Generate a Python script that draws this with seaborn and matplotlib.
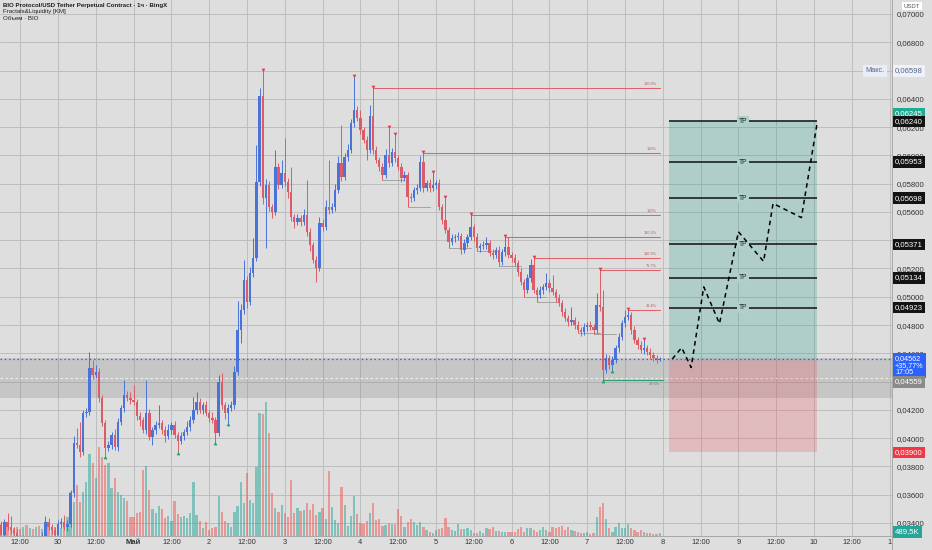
import matplotlib
matplotlib.use("Agg")

import numpy as np
import pandas as pd
import matplotlib.pyplot as plt
import seaborn as sns
from matplotlib.transforms import blended_transform_factory
from matplotlib.ticker import FuncFormatter

sns.set_theme(style="white")
plt.rcParams["font.family"] = ["Liberation Sans", "DejaVu Sans"]

BG = "#dedede"
GRID = "#bdbdbd"
UP = "#4a72d9"
DOWN = "#db5b66"

# hourly candles, prices x1000 (0.04562 -> 45.62), first candle = Apr 29 06:00
first_open = 33.86
close_k = [
    33.15, 34.07, 33.71, 33.50, 33.29, 32.94, 32.80, 32.87, 32.66, 32.80,
    32.73, 32.87, 32.80, 33.08, 34.07, 33.71, 33.50, 33.15, 33.93, 34.07,
    33.71, 33.93, 36.12, 39.66, 39.51, 39.02, 41.78, 41.85, 44.96, 44.47,
    44.68, 42.84, 41.07, 39.30, 39.51, 40.22, 39.37, 41.14, 42.13, 43.05,
    42.84, 42.70, 42.56, 41.57, 41.28, 40.58, 41.78, 40.08, 40.58, 40.93,
    41.07, 40.58, 40.15, 40.58, 40.93, 40.22, 39.80, 40.15, 40.43, 40.79,
    41.28, 41.99, 42.56, 41.99, 42.34, 41.78, 41.43, 41.28, 40.36, 43.97,
    42.34, 41.78, 42.13, 42.34, 44.68, 47.65, 49.06, 51.18, 49.63, 51.68,
    52.74, 58.12, 64.20, 56.99, 57.90, 56.35, 56.00, 59.18, 57.90, 58.75,
    58.12, 57.41, 55.64, 55.29, 55.57, 55.29, 55.78, 54.58, 53.66, 52.60,
    52.03, 55.22, 54.93, 56.35, 56.13, 56.35, 57.55, 59.46, 58.47, 59.89,
    60.38, 62.29, 63.21, 62.64, 61.79, 61.09, 60.38, 62.79, 60.38, 59.67,
    59.18, 58.61, 60.03, 59.46, 60.24, 59.81, 59.18, 58.40, 58.61, 57.06,
    56.99, 57.55, 57.69, 59.53, 57.69, 58.05, 57.69, 57.90, 58.05, 56.35,
    55.43, 54.72, 53.87, 54.16, 54.23, 54.30, 53.31, 53.80, 54.23, 54.93,
    54.23, 53.45, 53.59, 53.66, 53.80, 53.10, 52.95, 53.31, 52.46, 53.17,
    53.52, 52.95, 52.74, 52.39, 51.75, 51.04, 50.48, 51.33, 52.24, 50.48,
    50.12, 50.48, 50.69, 50.97, 50.62, 50.34, 49.91, 49.56, 48.92, 48.50,
    48.21, 48.35, 48.00, 47.65, 47.51, 47.86, 48.00, 47.86, 47.65, 49.42,
    49.28, 44.82, 45.67, 45.17, 45.53, 46.38, 47.15, 48.14, 48.57, 48.71,
    47.65, 46.94, 46.58, 46.23, 46.38, 46.08, 45.87, 45.66, 45.53, 45.62,
]
wick_up_k = [
    0.3, 0.2, 0.64, 0.78, 0.2, 0.3, 0.2, 0.3, 0.2, 0.2,
    0.3, 0.2, 0.2, 0.3, 0.4, 0.28, 0.2, 0.2, 0.3, 0.3,
    0.5, 0.3, 0.2, 0.5, 1.06, 1.63, 0.2, 0.3, 1.13, 0.57,
    0.5, 0.3, 0.2, 0.2, 0.3, 0.2, 0.4, 0.3, 0.2, 1.06,
    0.3, 0.4, 1.06, 0.2, 0.3, 0.2, 2.33, 0.3, 0.2, 0.3,
    1.27, 0.2, 0.3, 0.4, 0.2, 0.3, 0.2, 0.3, 0.2, 0.4,
    0.3, 0.92, 0.71, 0.3, 0.2, 0.3, 0.2, 0.4, 0.2, 0.5,
    0.64, 0.2, 0.3, 0.3, 0.4, 2.05, 0.4, 1.41, 0.3, 0.4,
    1.41, 2.62, 0.6, 1.77, 0.4, 0.3, 0.2, 1.2, 0.3, 0.9,
    2.48, 0.3, 1.77, 0.2, 0.3, 0.2, 0.4, 2.5, 0.3, 0.2,
    0.3, 0.4, 0.3, 0.5, 3.3, 0.3, 0.4, 0.5, 2.7, 0.3,
    0.4, 0.3, 2.33, 0.3, 0.57, 0.2, 0.3, 0.78, 1.98, 0.3,
    0.2, 0.3, 0.4, 1.91, 0.3, 1.2, 0.2, 0.3, 0.3, 0.2,
    0.3, 0.2, 0.3, 0.4, 0.64, 0.2, 0.3, 0.85, 0.2, 0.3,
    0.2, 1.56, 0.2, 0.3, 0.2, 0.3, 0.2, 0.3, 0.2, 0.85,
    0.2, 0.3, 0.2, 0.3, 0.4, 0.2, 0.3, 0.2, 0.3, 0.2,
    0.71, 0.71, 0.2, 0.3, 0.2, 0.3, 0.2, 0.3, 0.4, 0.5,
    0.2, 0.3, 0.2, 0.71, 0.3, 0.92, 0.2, 0.3, 0.2, 0.3,
    0.2, 0.92, 0.2, 0.3, 0.2, 0.3, 0.2, 0.3, 0.2, 0.85,
    2.48, 1.2, 0.3, 0.2, 0.3, 0.2, 0.3, 0.2, 0.5, 0.35,
    0.2, 0.3, 0.2, 0.3, 0.57, 0.2, 0.3, 0.2, 0.2, 0.1,
]
wick_down_k = [
    0.2, 0.3, 0.2, 0.3, 0.2, 0.3, 0.2, 0.2, 0.3, 0.2,
    0.2, 0.3, 0.2, 0.2, 0.3, 0.2, 0.3, 0.2, 0.2, 0.3,
    0.2, 0.3, 0.2, 0.3, 0.2, 0.35, 0.2, 0.3, 0.2, 0.3,
    0.2, 0.3, 0.2, 0.57, 0.2, 0.3, 0.2, 0.3, 0.2, 0.3,
    0.2, 0.3, 0.2, 0.3, 0.4, 0.2, 0.3, 0.2, 0.57, 0.3,
    0.2, 0.3, 0.4, 0.2, 0.3, 0.2, 0.78, 0.2, 0.3, 0.2,
    0.3, 0.2, 0.3, 0.2, 0.3, 0.2, 0.3, 0.2, 0.64, 0.2,
    0.3, 0.4, 0.71, 0.2, 0.3, 0.2, 0.92, 0.3, 0.4, 0.2,
    0.3, 0.2, 0.3, 0.4, 3.54, 0.3, 0.4, 0.2, 0.3, 0.2,
    0.3, 0.4, 0.3, 0.4, 0.2, 0.3, 0.2, 0.3, 0.4, 0.2,
    1.0, 0.2, 0.3, 0.2, 0.3, 0.2, 0.3, 0.2, 0.3, 0.2,
    0.3, 0.2, 0.3, 0.2, 0.3, 0.2, 0.71, 0.2, 0.3, 0.2,
    0.3, 0.35, 0.2, 0.3, 0.2, 0.3, 0.2, 0.3, 0.2, 0.71,
    0.3, 0.2, 0.3, 0.2, 0.3, 0.2, 0.3, 0.2, 0.3, 0.2,
    0.3, 0.2, 0.42, 0.2, 0.3, 0.2, 0.3, 0.2, 0.3, 0.2,
    0.3, 0.2, 0.3, 0.2, 0.3, 0.2, 0.3, 0.2, 0.3, 0.2,
    0.3, 0.2, 0.3, 0.2, 0.3, 0.2, 0.5, 0.2, 0.3, 0.2,
    0.5, 0.2, 0.3, 0.2, 0.3, 0.2, 0.3, 0.2, 0.3, 0.2,
    0.3, 0.2, 0.3, 0.2, 0.3, 0.2, 0.3, 0.2, 0.3, 0.2,
    0.3, 0.71, 0.2, 0.3, 0.35, 0.2, 0.3, 0.2, 0.3, 0.2,
    0.3, 0.2, 0.3, 0.2, 0.3, 0.2, 0.3, 0.2, 0.2, 0.1,
]
# volume, millions of BIO
volume_m = [
    1.8, 1.5, 2.1, 1.4, 1.2, 1.3, 1.0, 1.4, 1.6, 1.2,
    1.1, 1.3, 1.5, 1.0, 1.9, 1.7, 1.4, 1.3, 1.6, 1.2,
    1.5, 2.8, 6.6, 5.1, 7.7, 5.1, 6.6, 8.1, 12.3, 11.0,
    8.7, 13.4, 11.9, 10.7, 11.0, 7.2, 8.7, 6.6, 6.2, 5.7,
    5.3, 2.9, 2.9, 3.5, 3.6, 9.9, 10.5, 6.9, 4.1, 3.5,
    4.5, 4.1, 2.7, 3.0, 2.3, 5.3, 3.3, 2.9, 3.0, 2.7,
    3.5, 8.1, 3.2, 2.3, 1.2, 2.1, 0.9, 1.2, 1.4, 6.0,
    3.6, 2.3, 2.0, 1.4, 3.6, 4.5, 8.1, 5.0, 9.5, 5.4,
    5.0, 10.4, 18.5, 18.3, 20.1, 15.5, 6.5, 4.2, 3.6, 4.7,
    3.5, 2.9, 8.4, 3.5, 4.2, 3.8, 3.9, 5.0, 3.9, 4.8,
    3.2, 3.6, 4.2, 2.6, 9.8, 4.4, 2.4, 2.0, 7.4, 4.7,
    1.5, 3.0, 6.0, 3.3, 2.0, 1.8, 2.3, 3.5, 5.0, 2.4,
    2.6, 1.5, 1.7, 2.0, 1.8, 1.8, 4.1, 3.0, 1.4, 2.1,
    2.6, 2.1, 1.7, 2.1, 1.4, 0.9, 0.6, 0.5, 0.9, 1.1,
    1.2, 2.7, 1.4, 0.9, 0.8, 1.8, 1.1, 1.1, 1.2, 0.9,
    0.5, 0.5, 0.8, 0.5, 1.2, 1.1, 1.4, 0.8, 0.8, 0.6,
    0.6, 0.6, 0.6, 0.6, 1.1, 1.4, 0.6, 1.2, 1.2, 0.9,
    0.6, 0.9, 1.4, 0.9, 0.6, 1.4, 1.2, 1.4, 1.5, 0.9,
    1.4, 0.9, 0.8, 0.6, 0.5, 0.5, 0.6, 0.3, 0.5, 2.9,
    4.4, 5.0, 2.6, 1.2, 0.6, 1.4, 2.0, 1.2, 1.2, 1.8,
    1.2, 0.9, 0.6, 0.9, 0.6, 0.5, 0.5, 0.3, 0.3, 0.49,
]

fractal_high_idx = [83, 112, 118, 123, 125, 134, 137, 141, 149, 160, 169, 190, 199, 204]
fractal_low_idx = [33, 56, 68, 72, 191, 194]
level_idx = [118, 134, 149, 160, 169, 190, 199]
level_labels = ["100.0%", "100%", "100%", "130.3%", "110.9%", "71.7%", "38.4%"]
liq_low_idx = [121, 129, 142, 151, 158, 166, 170, 183, 188]

# long position tool and projected path (hours from Apr 30 00:00, price x1000)
pos_start, pos_end = 194, 241
entry_k, stop_k, target_k = 45.62, 39.00, 62.45
tp_levels_k = [62.40, 59.53, 56.98, 53.71, 51.34, 49.23]
proj_hours = [195, 198, 201, 205, 210, 216, 224, 227, 236, 241]
proj_k = [45.6, 46.4, 45.0, 50.7, 48.1, 54.6, 52.5, 56.6, 55.6, 62.3]
zone_k = (42.87, 45.70)
zone_mid_k = 44.25

x_tick_hours = list(range(-12, 265, 12))
x_tick_labels = ["12:00", "30", "12:00", "Май", "12:00", "2", "12:00", "3", "12:00", "4",
                 "12:00", "5", "12:00", "6", "12:00", "7", "12:00", "8", "12:00", "9",
                 "12:00", "10", "12:00", "1"]
price_ticks = np.arange(34, 71, 2) / 1000

df = pd.DataFrame({"hour": np.arange(len(close_k)) - 18,
                   "close": np.array(close_k) / 1000})
df["open"] = np.r_[first_open, close_k[:-1]] / 1000
df["high"] = df[["open", "close"]].max(axis=1) + np.array(wick_up_k) / 1000
df["low"] = df[["open", "close"]].min(axis=1) - np.array(wick_down_k) / 1000
df["volume"] = volume_m
df["up"] = df["close"] >= df["open"]

fig = plt.figure(figsize=(9.32, 5.5), dpi=100, facecolor=BG)
vax = fig.add_axes([0, 14 / 550, 892 / 932, 536 / 550])
ax = vax.twinx()
ax.set_zorder(vax.get_zorder() + 1)
ax.patch.set_visible(False)
vax.set_facecolor(BG)

vax.set_xlim(-18.41, 264.76)
ax.set_ylim(0.03308, 0.07099)
vax.set_ylim(0, 80.4)

# grid under the volume
tr_grid = blended_transform_factory(vax.transAxes, ax.transData)
for p in price_ticks:
    vax.plot([0, 1], [p, p], transform=tr_grid, color=GRID, lw=0.7, zorder=0)
for h in x_tick_hours:
    vax.axvline(h, color=GRID, lw=0.7, zorder=0)

# volume
vcol = np.where(df["up"], "#26a69a", "#ef5350")
vax.bar(df["hour"], df["volume"], width=0.72, color=vcol, alpha=0.5, lw=0, zorder=1)
vax.set_yticks([])
vax.set_xticks(x_tick_hours)
vax.set_xticklabels(x_tick_labels)
for lab in vax.get_xticklabels():
    if lab.get_text() == "Май":
        lab.set_fontweight("bold")
vax.tick_params(axis="x", length=0, pad=2.2, labelsize=5.4, labelcolor="#333333")
for side, s in vax.spines.items():
    s.set_visible(side == "bottom")
vax.spines["bottom"].set_color("#a8a8a8")
vax.spines["bottom"].set_linewidth(0.7)

# zone + price lines
ax.axhspan(zone_k[0] / 1000, zone_k[1] / 1000, color="#8f8f8f", alpha=0.3, lw=0, zorder=1)
ax.axhline(zone_mid_k / 1000, color="white", lw=0.6, ls=(0, (3, 3)), alpha=0.9, zorder=2)

# candles
ccol = np.where(df["up"], UP, DOWN)
ax.vlines(df["hour"], df["low"], df["high"], colors=ccol, lw=0.7, zorder=3)
body = np.maximum((df["close"] - df["open"]).abs(), 0.00005)
ax.bar(df["hour"], body, bottom=df[["open", "close"]].min(axis=1), width=0.74,
       color=ccol, lw=0, zorder=4)

# fractal levels and markers
end_hour = 191
for i, lab in zip(level_idx, level_labels):
    y = df["high"][i]
    ax.plot([df["hour"][i], end_hour], [y, y], color="#e0616b", lw=0.75, zorder=2)
    ax.text(end_hour - 1, y + 0.00012, lab, fontsize=2.8, color="#b06060", ha="right", va="bottom", zorder=2)
y_low = df["low"][191]
ax.plot([df["hour"][191], end_hour + 1], [y_low, y_low], color="#2f9e72", lw=0.75, zorder=2)
ax.text(end_hour, y_low - 0.00012, "23.6%", fontsize=2.8, color="#4a8a6a", ha="right", va="top", zorder=2)
for i in liq_low_idx:
    y = df["low"][i]
    ax.plot([df["hour"][i], df["hour"][i] + 7], [y, y], color="#9a9a9a", lw=0.6, zorder=2)

hi = df.loc[fractal_high_idx]
lo = df.loc[fractal_low_idx]
sns.scatterplot(x=hi["hour"], y=hi["high"] + 0.00008, marker="v", s=7, color="#e53945",
                linewidth=0, ax=ax, zorder=5)
sns.scatterplot(x=lo["hour"], y=lo["low"] - 0.00008, marker="^", s=7, color="#1f9e6e",
                linewidth=0, ax=ax, zorder=5)

# long position
ax.fill_between([pos_start, pos_end], entry_k / 1000, target_k / 1000, color="#089981", alpha=0.22, lw=0, zorder=2)
ax.fill_between([pos_start, pos_end], stop_k / 1000, entry_k / 1000, color="#f23645", alpha=0.2, lw=0, zorder=2)
ax.hlines(np.array(tp_levels_k) / 1000, pos_start, pos_end, color="#1e1e1e", lw=1.2, zorder=3)
for tp in tp_levels_k:
    ax.text((pos_start + pos_end) / 2, tp / 1000, "TP", fontsize=4.8, color="#222", ha="center", va="center",
            bbox=dict(boxstyle="square,pad=0.25", fc="#afcfca", ec="none"), zorder=4)
sns.lineplot(x=proj_hours, y=np.array(proj_k) / 1000, ax=ax, color="black", lw=1.1,
             linestyle=(0, (3, 2.5)), zorder=5)

ax.axhline(entry_k / 1000, color="#2962ff", lw=0.9, ls=(0, (1.2, 2.2)), zorder=6)

# axes styling
ax.set_xlim(-18.41, 264.76)
ax.yaxis.tick_right()
ax.set_yticks(price_ticks)
ax.yaxis.set_major_formatter(FuncFormatter(lambda v, _: f"{v:.5f}".replace(".", ",")))
ax.tick_params(axis="y", length=0, pad=3.5, labelsize=5.6, labelcolor="#333333")
ax.set_xlabel("")
ax.set_ylabel("")
for side in ["top", "left", "bottom"]:
    ax.spines[side].set_visible(False)
ax.spines["right"].set_color("#a8a8a8")
ax.spines["right"].set_linewidth(0.7)
fig.add_artist(plt.Line2D([892 / 932, 892 / 932], [0, 14 / 550], color="#a8a8a8", lw=0.7))

# price tags on the scale
tr = blended_transform_factory(ax.transAxes, ax.transData)


def tag(y, text, fc, tc="white", fs=5.6, ls=1.0):
    ax.text(1.0035, y, text, transform=tr, ha="left", va="center", fontsize=fs, color=tc,
            linespacing=ls, bbox=dict(boxstyle="square,pad=0.28", fc=fc, ec="none"),
            clip_on=False, zorder=10)


fmt = lambda v: f"{v:.5f}".replace(".", ",")
tag(0.06598, fmt(0.06598), "#eef1f7", tc="#55688f")
ax.text(0.992, 0.06598, "Макс.", transform=tr, ha="right", va="center", fontsize=5.2, color="#55688f",
        bbox=dict(boxstyle="square,pad=0.3", fc="#e9edf5", ec="none"), zorder=10)
tag(0.06293, fmt(target_k / 1000), "#22ab94")
for tp in tp_levels_k:
    tag(tp / 1000, fmt(tp / 1000), "#131313")
tag(0.04515, "0,04562\n+35,77%\n17:05", "#2962ff", fs=5.2, ls=0.95)
tag(0.04397, "0,04559", "#8a8a8a")
tag(stop_k / 1000, fmt(stop_k / 1000), "#f23645")
tag(0.03336, "489,5K", "#26a69a")

fig.text(912 / 932, 1 - 6 / 550, "USDT", fontsize=4.3, color="#555555", ha="center", va="center",
         bbox=dict(boxstyle="square,pad=0.3", fc="white", ec="none"))

hdr = dict(transform=ax.transAxes, ha="left", va="center", color="#1e1e1e", zorder=10)
ax.text(3 / 892, 1 - 5 / 536, "BIO Protocol/USD Tether Perpetual Contract · 1ч · BingX",
        fontsize=4.4, fontweight="bold", **hdr)
ax.text(3 / 892, 1 - 12 / 536, "Fractals&Liquidity [KM]", fontsize=4.4, **hdr)
ax.text(3 / 892, 1 - 19 / 536, "Объем · BIO", fontsize=4.4, **hdr)

fig.savefig("out.png", dpi=100, facecolor=BG)
